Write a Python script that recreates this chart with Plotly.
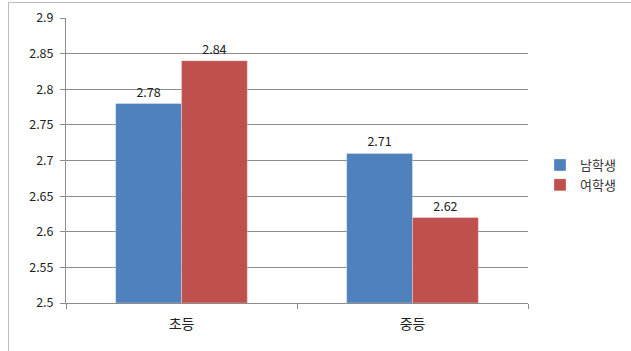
import plotly.graph_objects as go

categories = ["초등", "중등"]
series_names = ["남학생", "여학생"]
male = [2.78, 2.71]
female = [2.84, 2.62]
colors = ["#4F81BD", "#C0504D"]
y_ticks = [2.5, 2.55, 2.6, 2.65, 2.7, 2.75, 2.8, 2.85, 2.9]

FONT = "Noto Sans CJK KR, DejaVu Sans, sans-serif"

fig = go.Figure()
for name, vals, col in zip(series_names, [male, female], colors):
    fig.add_trace(go.Bar(
        x=categories, y=[v - 2.5 for v in vals], base=2.5, name=name,
        marker=dict(color=col, line=dict(color="rgba(255,255,255,0.6)", width=0.5)),
        text=[f"{v:g}" for v in vals], textposition="outside",
        textfont=dict(size=12.5, color="#222222", family=FONT),
        cliponaxis=False,
    ))

W, H = 631, 351
l, r, t, b = 66, 103, 18, 48
pw, ph = W - l - r, H - t - b

def px_x(p):
    return (p - l) / pw

def px_y(p):
    return (H - b - p) / ph

fig.update_layout(
    width=W, height=H,
    margin=dict(l=l, r=r, t=t, b=b, autoexpand=False),
    paper_bgcolor="white", plot_bgcolor="white",
    barmode="group", bargap=0.43, bargroupgap=0,
    font=dict(family=FONT, size=12, color="#222222"),
    showlegend=True,
    legend=dict(xref="container", yref="container", x=540 / W, y=1 - 175 / H,
                xanchor="left", yanchor="middle",
                font=dict(size=13, color="#333333"), itemwidth=30,
                tracegroupgap=2, bgcolor="rgba(0,0,0,0)"),
    xaxis=dict(showline=True, linecolor="#8c8c8c", linewidth=1,
               ticks="outside", tickson="boundaries", ticklen=5, tickcolor="#8c8c8c",
               ticklabelstandoff=8,
               tickfont=dict(size=14, color="#222222"), showgrid=False),
    yaxis=dict(range=[2.5, 2.9], tickvals=y_ticks, ticktext=[f"{v:g}" for v in y_ticks],
               showline=True, linecolor="#8c8c8c", linewidth=1,
               ticks="outside", ticklen=5, tickcolor="#8c8c8c",
               ticklabelstandoff=4,
               showgrid=True, gridcolor="#8c8c8c", gridwidth=1,
               tickfont=dict(size=12.5, color="#222222"), zeroline=False),
    shapes=[
        dict(type="line", xref="paper", yref="paper", x0=px_x(8.5), x1=px_x(8.5),
             y0=px_y(2.5), y1=px_y(H + 5), line=dict(color="#BBBBBB", width=1)),
        dict(type="line", xref="paper", yref="paper", x0=px_x(8.5), x1=px_x(W + 5),
             y0=px_y(2.5), y1=px_y(2.5), line=dict(color="#BBBBBB", width=1)),
    ],
)

fig.write_html("out.html")
